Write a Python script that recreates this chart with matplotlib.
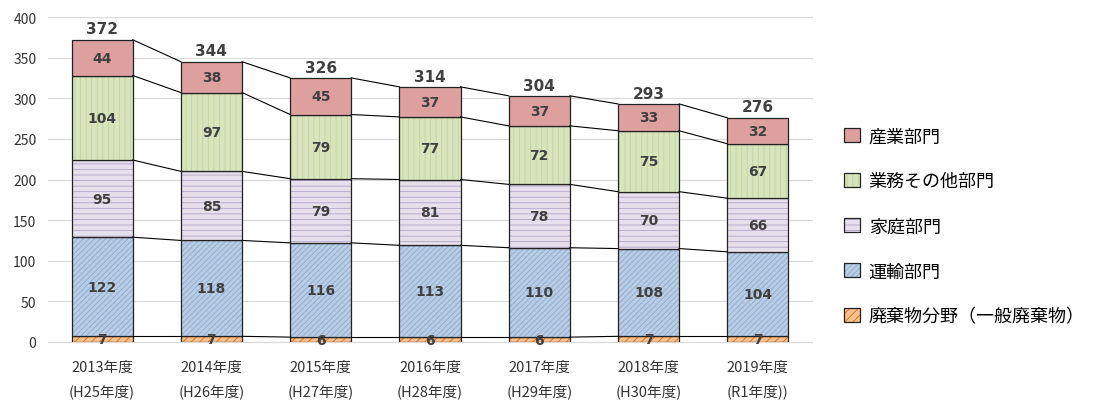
import numpy as np
import matplotlib.pyplot as plt

plt.rcParams['font.family'] = ['Noto Sans CJK JP', 'DejaVu Sans']

years = ["2013年度\n(H25年度)", "2014年度\n(H26年度)", "2015年度\n(H27年度)",
         "2016年度\n(H28年度)", "2017年度\n(H29年度)", "2018年度\n(H30年度)",
         "2019年度\n(R1年度))"]
waste = [7, 7, 6, 6, 6, 7, 7]
transport = [122, 118, 116, 113, 110, 108, 104]
household = [95, 85, 79, 81, 78, 70, 66]
commercial = [104, 97, 79, 77, 72, 75, 67]
industry = [44, 38, 45, 37, 37, 33, 32]
totals = [372, 344, 326, 314, 304, 293, 276]

series = [
    ("廃棄物分野（一般廃棄物）", waste, "#FAC090", "////", "#E46C0A"),
    ("運輸部門", transport, "#B9CDE5", "//////", "#8EA9CF"),
    ("家庭部門", household, "#E6E0EC", "---", "#B3A2C7"),
    ("業務その他部門", commercial, "#D7E4BD", "|||", "#C3D69B"),
    ("産業部門", industry, "#DDA09E", "", "#D99694"),
]

fig = plt.figure(figsize=(11.09, 4.06), dpi=100)
ax = fig.add_axes([47.5 / 1109, 63 / 406, 765 / 1109, 325 / 406])

x = np.arange(len(years))
w = 0.56
bottom = np.zeros(len(years))
handles = []
tops = []
for name, vals, fc, hatch, hc in series:
    vals = np.array(vals)
    plt.rcParams['hatch.color'] = hc
    plt.rcParams['hatch.linewidth'] = 0.6
    bars = ax.bar(x, vals, w, bottom=bottom, color=fc, hatch=hatch,
                  edgecolor="#222222", linewidth=0.9, zorder=3, label=name)
    # keep black outline while hatch uses its own color
    for b in bars:
        b._hatch_color = plt.matplotlib.colors.to_rgba(hc)
    handles.append(bars)
    for xi, v, b0 in zip(x, vals, bottom):
        ax.text(xi, b0 + v / 2, str(v), ha="center", va="center",
                fontsize=10, fontweight="bold", color="#404040", zorder=5,
                family="DejaVu Sans")
    bottom = bottom + vals
    tops.append(bottom.copy())

# connector lines between bars
for t in tops:
    for i in range(len(x) - 1):
        ax.plot([x[i] + w / 2, x[i + 1] - w / 2], [t[i], t[i + 1]],
                color="black", linewidth=0.8, zorder=4)

for xi, tot, t in zip(x, totals, tops[-1]):
    ax.text(xi, t + 4, str(tot), ha="center", va="bottom", fontsize=11,
            fontweight="bold", color="#404040", family="DejaVu Sans")

ax.set_xlim(-0.5, len(years) - 0.5)
ax.set_ylim(0, 400)
ax.set_yticks(range(0, 401, 50))
ax.set_xticks(x)
ax.set_xticklabels(years, fontsize=10.5, color="#333333", linespacing=1.8)
ax.tick_params(axis="y", labelsize=10, length=0, colors="#333333", pad=8)
ax.tick_params(axis="x", length=0, pad=13)
ax.grid(axis="y", color="#D9D9D9", linewidth=0.8, zorder=0)
for s in ["top", "right", "left"]:
    ax.spines[s].set_visible(False)
ax.spines["bottom"].set_color("#D9D9D9")

leg = fig.legend(handles[::-1], [s[0] for s in series][::-1],
                 loc="center left", bbox_to_anchor=(828 / 1109, 0.44),
                 frameon=False, fontsize=13, labelspacing=1.5,
                 handlelength=0.85, handleheight=0.85, handletextpad=0.5)

fig.savefig("out.png", dpi=100)
